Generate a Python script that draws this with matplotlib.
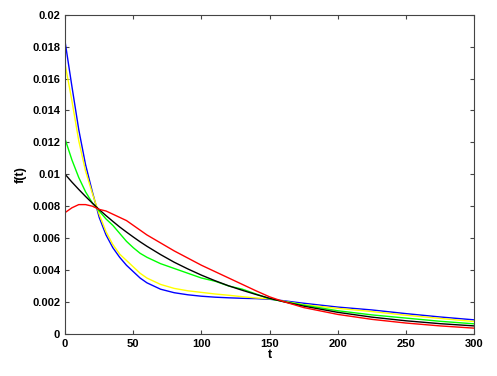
import matplotlib
matplotlib.use("Agg")
import matplotlib.pyplot as plt

plt.rcParams['font.family'] = ['Liberation Sans', 'DejaVu Sans']
plt.rcParams['font.weight'] = 'bold'

# values
t = [0, 5, 10, 15, 20, 25, 30, 35, 40, 45, 50, 55, 60, 70, 80, 90, 100,
     110, 120, 130, 140, 150, 160, 175, 200, 225, 250, 275, 300]

f_blue = [0.0183, 0.0155, 0.0128, 0.0106, 0.0089, 0.0073, 0.0062, 0.0054,
          0.0048, 0.0043, 0.0039, 0.0035, 0.0032, 0.0028, 0.00258, 0.00245,
          0.00236, 0.0023, 0.00226, 0.00223, 0.00221, 0.00217, 0.00208,
          0.00192, 0.00168, 0.00150, 0.00127, 0.00106, 0.00088]
f_yellow = [0.0169, 0.0146, 0.0121, 0.0102, 0.0088, 0.0075, 0.0064, 0.0056,
            0.0050, 0.0046, 0.0042, 0.0038, 0.0035, 0.0031, 0.00285, 0.0027,
            0.0026, 0.0025, 0.00242, 0.00233, 0.00225, 0.0022, 0.00205,
            0.00183, 0.0016, 0.0014, 0.00117, 0.00097, 0.00077]
f_green = [0.0122, 0.0109, 0.0098, 0.0089, 0.0082, 0.0077, 0.0072, 0.0068,
           0.0063, 0.0058, 0.0054, 0.00505, 0.0048, 0.0044, 0.0041, 0.0038,
           0.0035, 0.0033, 0.0030, 0.0028, 0.0025, 0.0022, 0.00203,
           0.0018, 0.00145, 0.00119, 0.00099, 0.00079, 0.00063]
f_black = [0.0100, 0.00951, 0.00905, 0.00861, 0.00819, 0.00779, 0.00741, 0.00705,
           0.00670, 0.00638, 0.00607, 0.00577, 0.00549, 0.00497, 0.00449, 0.00407,
           0.00368, 0.00333, 0.00301, 0.00273, 0.00247, 0.00223, 0.00202,
           0.00174, 0.00135, 0.00105, 0.00082, 0.00064, 0.00050]
f_red = [0.0076, 0.0079, 0.0081, 0.0081, 0.0080, 0.0078, 0.0077, 0.0075,
         0.0073, 0.0071, 0.0068, 0.0065, 0.0062, 0.0057, 0.0052, 0.00475,
         0.0043, 0.0039, 0.0035, 0.0031, 0.0027, 0.00232, 0.00203,
         0.00165, 0.00122, 0.00091, 0.00068, 0.00050, 0.00036]

series = [(f_blue, (0, 0, 1)), (f_yellow, (1, 1, 0)), (f_green, (0, 1, 0)),
          (f_black, (0, 0, 0)), (f_red, (1, 0, 0))]

fig = plt.figure(figsize=(4.97, 3.76), dpi=100)
ax = fig.add_axes([0.131, 0.112, 0.823, 0.849])

for vals, color in series:
    ax.plot(t, vals, color=color, lw=1.0)

ax.set_xlim(0, 300)
ax.set_ylim(0, 0.02)
ax.set_xticks(range(0, 301, 50))
ax.set_yticks([i * 0.002 for i in range(11)])
ax.set_yticklabels(['0', '0.002', '0.004', '0.006', '0.008', '0.01',
                    '0.012', '0.014', '0.016', '0.018', '0.02'])
ax.tick_params(direction='in', top=True, right=True, length=3,
               labelsize=8, width=0.8, color='#444444')
for lab in ax.get_xticklabels() + ax.get_yticklabels():
    lab.set_fontweight('bold')
for s in ax.spines.values():
    s.set_color('#444444')
    s.set_linewidth(0.8)

ax.set_xlabel('t', fontsize=9, fontweight='bold', labelpad=0)
ax.set_ylabel('f(t)', fontsize=9, fontweight='bold', labelpad=4)

fig.savefig('out.png', dpi=100)
